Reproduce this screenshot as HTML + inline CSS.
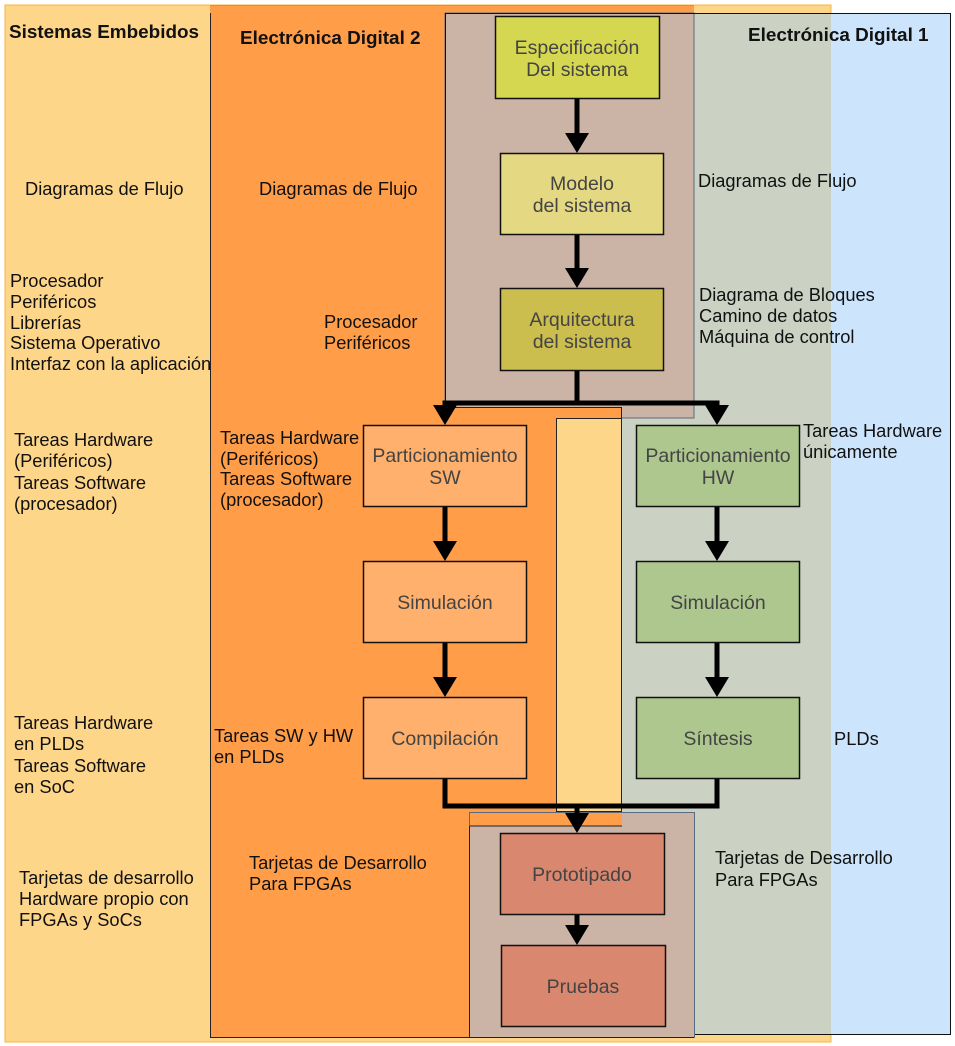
<!DOCTYPE html>
<html><head><meta charset="utf-8"><style>
html,body{margin:0;padding:0;background:#fff;}
svg{display:block;font-family:"Liberation Sans",sans-serif;}
.t{font-size:18.3px;fill:#111;}
.b{font-size:18.9px;font-weight:bold;fill:#111;}
.n{font-size:19.5px;fill:#444;text-anchor:middle;}
</style></head><body>
<svg width="955" height="1046" viewBox="0 0 955 1046">
<rect x="5" y="5" width="826" height="1037" fill="#FED68A" stroke="#F5B53F" stroke-width="1"/>
<rect x="210" y="5" width="484" height="1033" fill="#FF9D48"/>
<line x1="210" y1="5.5" x2="694" y2="5.5" stroke="#E0902A" stroke-width="1"/>
<rect x="694" y="13" width="137" height="1022" fill="#CBD1C3"/>
<rect x="831" y="13" width="119" height="1022" fill="#CCE5FC"/>
<rect x="622" y="418" width="72" height="395" fill="#CBD1C3"/>
<rect x="445" y="13" width="249" height="405" fill="#CBB3A5" stroke="#5A6A80" stroke-width="1"/>
<line x1="445.5" y1="13" x2="445.5" y2="418" stroke="#111"/>
<line x1="445" y1="13.5" x2="950" y2="13.5" stroke="#111"/>
<line x1="950.5" y1="13" x2="950.5" y2="1035" stroke="#111"/>
<line x1="694" y1="1034.5" x2="950" y2="1034.5" stroke="#111"/>
<rect x="210" y="407" width="412" height="419" fill="#FF9D48"/>
<line x1="445" y1="407.5" x2="622" y2="407.5" stroke="#222"/>
<line x1="621.5" y1="407" x2="621.5" y2="826" stroke="#222"/>
<rect x="556.5" y="418.5" width="65" height="393" fill="#FED68A" stroke="#222"/>
<rect x="469.5" y="812.5" width="225" height="225" fill="#CBB3A5" stroke="#5A6A80"/>
<rect x="470" y="813" width="152" height="13" fill="#FF9D48"/>
<line x1="470" y1="826" x2="622" y2="826" stroke="#222"/>
<line x1="469.5" y1="826" x2="469.5" y2="1038" stroke="#222"/>
<line x1="470" y1="1037.5" x2="694" y2="1037.5" stroke="#222"/>
<line x1="210.5" y1="13" x2="210.5" y2="1038" stroke="#222" stroke-width="1"/>
<line x1="210" y1="1037.5" x2="470" y2="1037.5" stroke="#222" stroke-width="1"/>

<g stroke="#000" stroke-width="5" fill="none">
<line x1="577" y1="98" x2="577" y2="135"/>
<line x1="577" y1="234" x2="577" y2="270"/>
<line x1="577" y1="370" x2="577" y2="403"/>
<polyline points="445,410 445,403 717,403 717,410"/>
<line x1="445" y1="506" x2="445" y2="543"/>
<line x1="445" y1="642" x2="445" y2="679"/>
<line x1="717" y1="506" x2="717" y2="543"/>
<line x1="717" y1="642" x2="717" y2="679"/>
<polyline points="445,778 445,806 717,806 717,778"/>
<line x1="577" y1="806" x2="577" y2="815"/>
<line x1="577" y1="914" x2="577" y2="927"/>
</g>
<g fill="#000">
<polygon points="565,133 589,133 577,153"/>
<polygon points="565,268 589,268 577,288"/>
<polygon points="433,405 457,405 445,425"/>
<polygon points="705,405 729,405 717,425"/>
<polygon points="433,541 457,541 445,561"/>
<polygon points="433,677 457,677 445,697"/>
<polygon points="705,541 729,541 717,561"/>
<polygon points="705,677 729,677 717,697"/>
<polygon points="565,813 589,813 577,833"/>
<polygon points="565,925 589,925 577,945"/>
</g>

<g stroke="#111" stroke-width="1.5">
<rect x="495.5" y="16.5" width="164" height="82" fill="#D6D750"/>
<rect x="500.5" y="153.5" width="163" height="81" fill="#E4D982"/>
<rect x="500.5" y="288.5" width="163" height="82" fill="#CBBE4F"/>
<rect x="363.5" y="425.5" width="163" height="81" fill="#FFB06C"/>
<rect x="363.5" y="561.5" width="163" height="81" fill="#FFB06C"/>
<rect x="363.5" y="697.5" width="163" height="81" fill="#FFB06C"/>
<rect x="636.5" y="425.5" width="163" height="81" fill="#AEC78F"/>
<rect x="636.5" y="561.5" width="163" height="81" fill="#AEC78F"/>
<rect x="636.5" y="697.5" width="163" height="81" fill="#AEC78F"/>
<rect x="500.5" y="833.5" width="164" height="81" fill="#D9876E"/>
<rect x="501.5" y="945.5" width="164" height="81" fill="#D9876E"/>
</g>
<text class="n" x="577" y="54">Especificación</text>
<text class="n" x="577" y="76">Del sistema</text>
<text class="n" x="582" y="190">Modelo</text>
<text class="n" x="582" y="212">del sistema</text>
<text class="n" x="582" y="326">Arquitectura</text>
<text class="n" x="582" y="348">del sistema</text>
<text class="n" x="445" y="462">Particionamiento</text>
<text class="n" x="445" y="484">SW</text>
<text class="n" x="445" y="609">Simulación</text>
<text class="n" x="445" y="745">Compilación</text>
<text class="n" x="718" y="462">Particionamiento</text>
<text class="n" x="718" y="484">HW</text>
<text class="n" x="718" y="609">Simulación</text>
<text class="n" x="718" y="745">Síntesis</text>
<text class="n" x="582" y="881">Prototipado</text>
<text class="n" x="583" y="993">Pruebas</text>

<text class="b" x="9" y="38">Sistemas Embebidos</text>
<text class="b" x="240" y="44">Electrónica Digital 2</text>
<text class="b" x="748" y="41">Electrónica Digital 1</text>

<text class="t" x="25" y="195">Diagramas de Flujo</text>
<text class="t" x="10" y="287">Procesador</text>
<text class="t" x="10" y="308">Periféricos</text>
<text class="t" x="10" y="329">Librerías</text>
<text class="t" x="10" y="349">Sistema Operativo</text>
<text class="t" x="10" y="370">Interfaz con la aplicación</text>
<text class="t" x="14" y="446">Tareas Hardware</text>
<text class="t" x="14" y="467">(Periféricos)</text>
<text class="t" x="14" y="489">Tareas Software</text>
<text class="t" x="14" y="510">(procesador)</text>
<text class="t" x="14" y="729">Tareas Hardware</text>
<text class="t" x="14" y="750">en PLDs</text>
<text class="t" x="14" y="772">Tareas Software</text>
<text class="t" x="14" y="793">en SoC</text>
<text class="t" x="19" y="884">Tarjetas de desarrollo</text>
<text class="t" x="19" y="905">Hardware propio con</text>
<text class="t" x="19" y="926">FPGAs y SoCs</text>

<text class="t" x="259" y="195">Diagramas de Flujo</text>
<text class="t" x="324" y="328">Procesador</text>
<text class="t" x="324" y="349">Periféricos</text>
<text class="t" x="220" y="444">Tareas Hardware</text>
<text class="t" x="220" y="465">(Periféricos)</text>
<text class="t" x="220" y="485">Tareas Software</text>
<text class="t" x="220" y="506">(procesador)</text>
<text class="t" x="214" y="742">Tareas SW y HW</text>
<text class="t" x="214" y="763">en PLDs</text>
<text class="t" x="249" y="869">Tarjetas de Desarrollo</text>
<text class="t" x="249" y="890">Para FPGAs</text>

<text class="t" x="698" y="187">Diagramas de Flujo</text>
<text class="t" x="699" y="301">Diagrama de Bloques</text>
<text class="t" x="699" y="322">Camino de datos</text>
<text class="t" x="699" y="343">Máquina de control</text>
<text class="t" x="803" y="437">Tareas Hardware</text>
<text class="t" x="803" y="458">únicamente</text>
<text class="t" x="834" y="745">PLDs</text>
<text class="t" x="715" y="864">Tarjetas de Desarrollo</text>
<text class="t" x="715" y="886">Para FPGAs</text>
</svg>
</body></html>
